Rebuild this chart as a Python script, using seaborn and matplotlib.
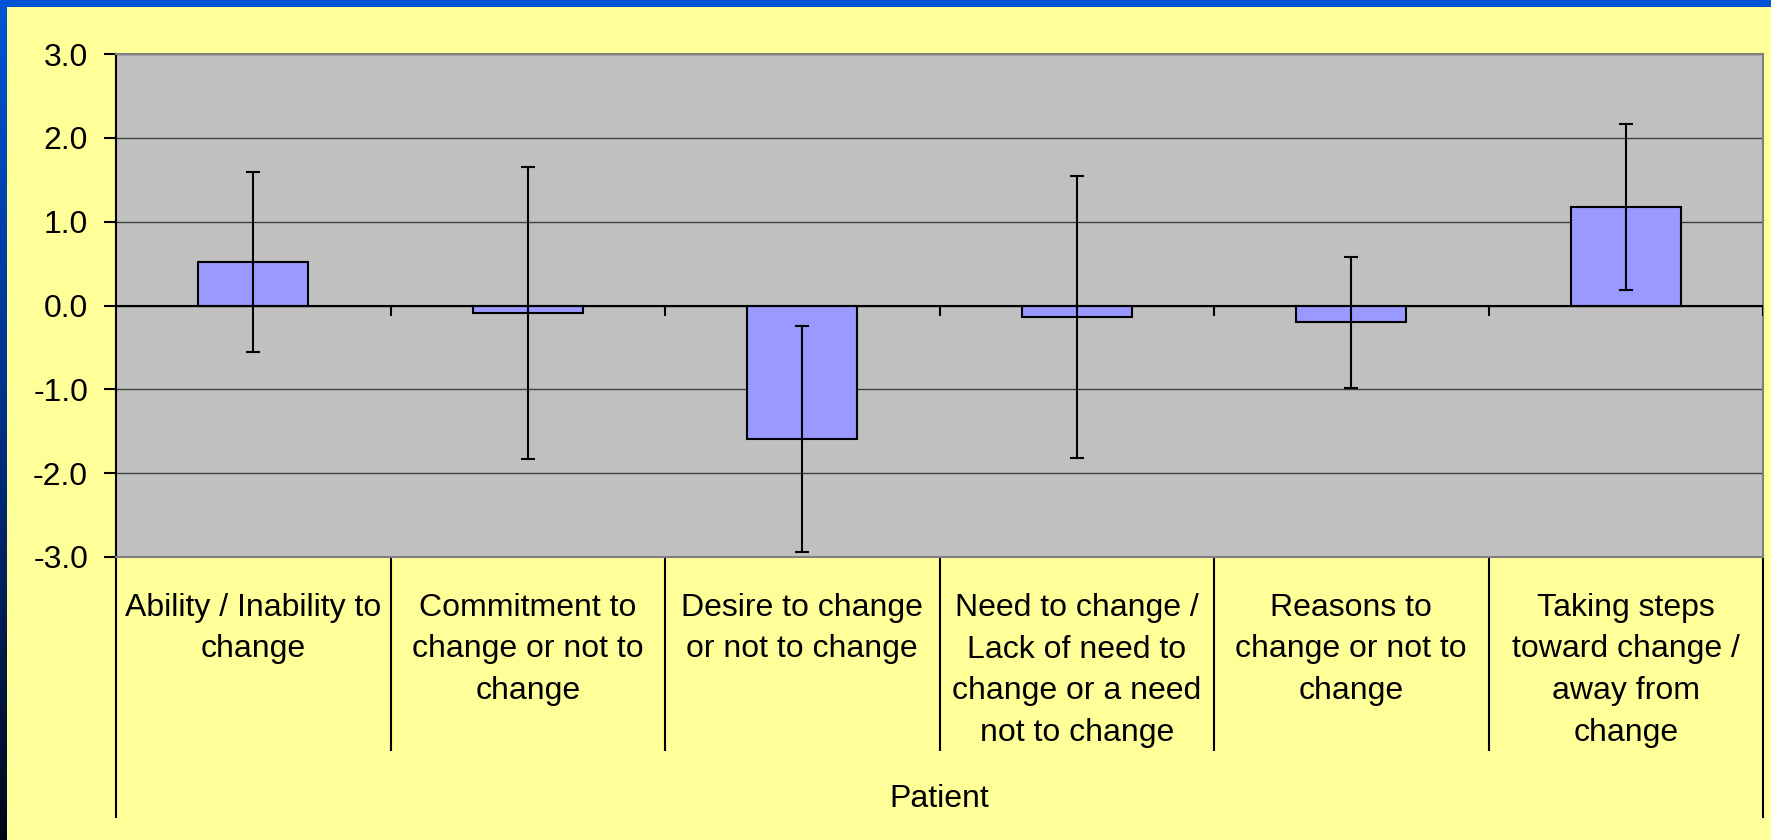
import numpy as np
import pandas as pd
import seaborn as sns
import matplotlib.pyplot as plt
from matplotlib.colors import LinearSegmentedColormap

# Values
categories = [
    "Ability / Inability to change",
    "Commitment to change or not to change",
    "Desire to change or not to change",
    "Need to change / Lack of need to change or a need not to change",
    "Reasons to change or not to change",
    "Taking steps toward change / away from change",
]
tick_labels = [
    "Ability / Inability to\nchange",
    "Commitment to\nchange or not to\nchange",
    "Desire to change\nor not to change",
    "Need to change /\nLack of need to\nchange or a need\nnot to change",
    "Reasons to\nchange or not to\nchange",
    "Taking steps\ntoward change /\naway from\nchange",
]
means = [0.52, -0.09, -1.59, -0.14, -0.20, 1.17]
errors = [1.07, 1.74, 1.35, 1.68, 0.78, 0.99]
group_label = "Patient"
y_ticks = [-3.0, -2.0, -1.0, 0.0, 1.0, 2.0, 3.0]

df = pd.DataFrame({"category": categories, "value": means, "err": errors})

sns.set_theme(style="white")
plt.rcParams["font.family"] = ["Liberation Sans", "DejaVu Sans"]

W, H = 1771, 840
fig = plt.figure(figsize=(W / 100, H / 100), dpi=100)
fig.patch.set_facecolor("#FFFF99")

# slide border: blue band on top, blue-to-black band on the left
top_band = fig.add_axes([0, 1 - 7 / H, 1, 7 / H])
top_band.set_facecolor("#0055D4")
top_band.set_xticks([])
top_band.set_yticks([])
for s in top_band.spines.values():
    s.set_visible(False)

left_band = fig.add_axes([0, 0, 7 / W, 1])
cmap = LinearSegmentedColormap.from_list("border", ["#0055D4", "#003088", "#000818"])
left_band.imshow(np.linspace(0, 1, 256).reshape(-1, 1), aspect="auto", cmap=cmap)
left_band.axis("off")

# plot area
ax = fig.add_axes([116 / W, 1 - 557 / H, (1763 - 116) / W, (557 - 54) / H])
ax.set_facecolor("#C0C0C0")

sns.barplot(data=df, x="category", y="value", color="#9999FF", saturation=1,
            edgecolor="black", linewidth=1.5, width=0.4, errorbar=None,
            ax=ax, zorder=3)
ax.errorbar(np.arange(len(categories)), df["value"], yerr=df["err"], fmt="none",
            ecolor="black", elinewidth=1.5, capsize=4.7, capthick=1.5, zorder=5)

n = len(categories)
ax.set_xlim(-0.5, n - 0.5)
ax.set_ylim(min(y_ticks), max(y_ticks))

ax.set_yticks(y_ticks)
ax.set_yticklabels([f"{v:.1f}" for v in y_ticks])
ax.yaxis.grid(True, color="#404040", linewidth=1)
ax.set_axisbelow(True)

# zero line with small ticks at the category boundaries
ax.axhline(0, color="black", linewidth=1.5, zorder=4)
bounds = np.arange(0.5, n)
ax.vlines(bounds, -0.13, 0, color="black", linewidth=1.5, zorder=4)

# long ticks under the plot act as the category table lines
ax.set_xticks(np.arange(0.5, n - 1))
ax.set_xticklabels([""] * (n - 1))
ax.set_xticks([-0.5, n - 0.5], minor=True)
ax.tick_params(axis="x", which="major", bottom=True, direction="out",
               length=140, width=1.5, color="black")
ax.tick_params(axis="x", which="minor", bottom=True, direction="out",
               length=188, width=1.5, color="black")
ax.tick_params(axis="y", left=True, direction="out", length=8.6, width=1.5,
               color="black", pad=11.5, labelsize=23, labelcolor="black")
ax.set_xlabel("")
ax.set_ylabel("")

for name, s in ax.spines.items():
    s.set_visible(True)
    s.set_linewidth(1.5)
    s.set_color("black" if name == "left" else "#808080")

trans = ax.get_xaxis_transform()
for i, lab in enumerate(tick_labels):
    ax.text(i, -36 / 503, lab, transform=trans, ha="center", va="top",
            fontsize=23, linespacing=1.5, color="black")
ax.text(0.5, -(807 - 557) / 503, group_label, transform=ax.transAxes,
        ha="center", va="baseline", fontsize=23, color="black")

fig.savefig("out.png", dpi=100, facecolor=fig.get_facecolor())
